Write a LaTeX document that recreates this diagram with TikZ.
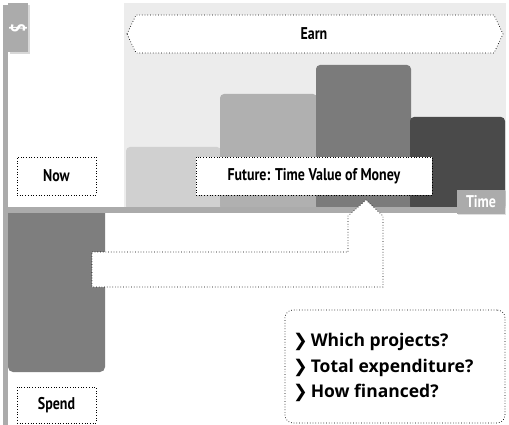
\documentclass[tikz,border=0pt]{standalone}
\usepackage{fontspec}
\setmainfont{PT Sans}
\newfontfamily\lab[FakeStretch=0.82]{PT Sans}
\newfontfamily\qf{Open Sans}
\newfontfamily\djfont{DejaVu Sans}
\usetikzlibrary{shadows}
\definecolor{axisgray}{HTML}{ABABAB}
\definecolor{bgray}{HTML}{ECECEC}
\definecolor{barA}{HTML}{D0D0D0}
\definecolor{barB}{HTML}{B0B0B0}
\definecolor{barC}{HTML}{7B7B7B}
\definecolor{barD}{HTML}{4A4A4A}
\definecolor{spendgray}{HTML}{7E7E7E}
\tikzset{
  dotbox/.style={draw=black, dotted, line width=0.7pt, fill=white},
  labtext/.style={font=\lab\bfseries\fontsize{17}{20}\selectfont, text=black},
  qline/.style={font=\qf\bfseries\fontsize{17.5}{20}\selectfont, anchor=west, inner sep=0pt},
}
\begin{document}
\begin{tikzpicture}[x=1pt,y=-1pt]
\useasboundingbox (0,0) rectangle (509,425);
\fill[white] (0,0) rectangle (509,425);
% earn background
\fill[bgray] (124,3) rectangle (506,208);
% bars
\fill[barA, rounded corners=4pt] (126,210) -- (126,147) -- (221,147) -- (221,210) -- cycle;
\fill[barB, rounded corners=4pt] (220,210) -- (220,94) -- (317,94) -- (317,210) -- cycle;
\fill[barC, rounded corners=4pt] (316,210) -- (316,65) -- (411,65) -- (411,210) -- cycle;
\fill[barD, rounded corners=4pt] (410,210) -- (410,117) -- (505,117) -- (505,210) -- cycle;
% axes
\fill[axisgray] (3,5) rectangle (8,425);
\fill[axisgray] (8,207) rectangle (504,213);
% Time label
\node[fill=axisgray, text=white, font=\lab\bfseries\fontsize{17}{20}\selectfont, minimum width=48pt, minimum height=23pt, inner sep=0pt, drop shadow={opacity=0.25, shadow xshift=1pt, shadow yshift=-1pt}] (time) at (481,202) {Time};
% Earn arrow band
\draw[dotbox] (127,34) -- (136,15) -- (494,15) -- (503,34) -- (494,53) -- (136,53) -- cycle;
\node[labtext] (earn) at (314,34) {Earn};
% future box
\node[dotbox, labtext, minimum width=236pt, minimum height=38pt, inner sep=0pt] (future) at (314,176) {Future: Time Value of Money};
% now box
\node[dotbox, labtext, minimum width=79pt, minimum height=38pt, inner sep=0pt] (now) at (56.5,176) {Now};
% spend bar
\fill[spendgray, rounded corners=5pt] (8,208) -- (105,208) -- (105,372) -- (8,372) -- cycle;
\fill[axisgray] (8,207) rectangle (110,213);
% L arrow
\draw[dotbox] (92,252) -- (348,252) -- (348,216) -- (366,200) -- (383,216) -- (383,287) -- (92,287) -- cycle;
% spend box
\node[dotbox, labtext, minimum width=79pt, minimum height=36pt, inner sep=0pt] (spend) at (56.5,405) {Spend};
% questions box
\node[dotbox, rounded corners=8pt, minimum width=220pt, minimum height=113pt] (qbox) at (395,366.5) {};
\node[qline] (q1) at (293,342) {{\djfont\bfseries ❯}\,Which projects?};
\node[qline] (q2) at (293,368) {{\djfont\bfseries ❯}\,Total expenditure?};
\node[qline] (q3) at (293,393) {{\djfont\bfseries ❯}\,How financed?};
% dollar box
\node[fill=axisgray, minimum width=20pt, minimum height=49pt, inner sep=0pt, drop shadow={opacity=0.3, shadow xshift=2pt, shadow yshift=-2pt}] (dollar) at (18,27.5) {};
\node[text=white, rotate=-90, font=\lab\bfseries\fontsize{20}{22}\selectfont] (dsym) at (18,28) {\$};
\end{tikzpicture}
\end{document}
